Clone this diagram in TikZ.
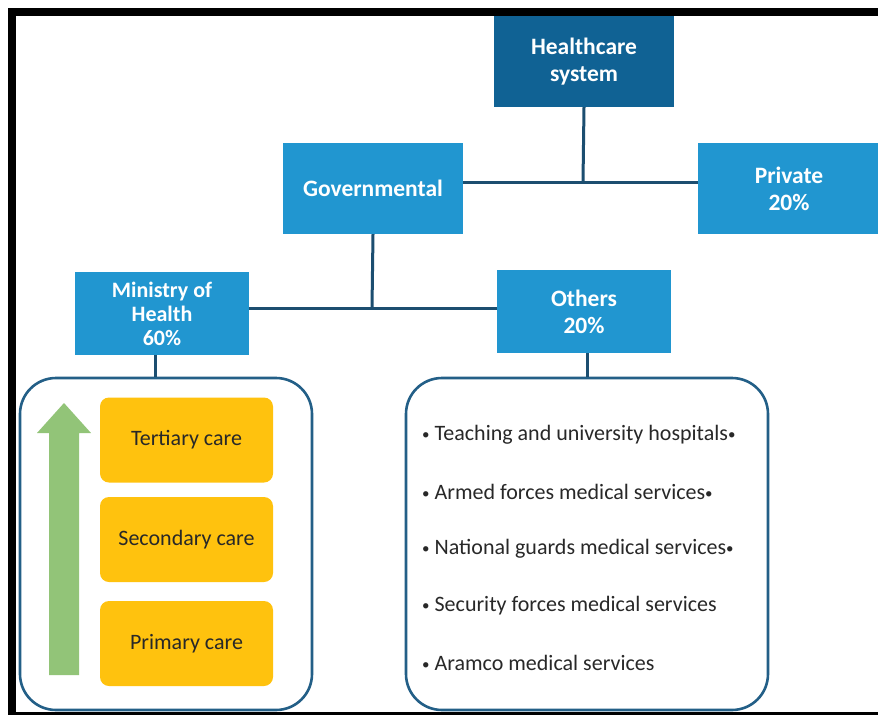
\documentclass[tikz,border=0pt]{standalone}
\usepackage{fontspec}
\setmainfont{Carlito}
\usetikzlibrary{calc}
\definecolor{hcblue}{RGB}{16,98,148}
\definecolor{midblue}{RGB}{33,150,208}
\definecolor{linecol}{RGB}{28,78,112}
\definecolor{framecol}{RGB}{35,95,135}
\definecolor{careyel}{RGB}{255,194,14}
\definecolor{arrgreen}{RGB}{146,196,120}
\definecolor{txtdark}{RGB}{40,40,40}
\newcommand{\smb}{\raisebox{1.5pt}{\fontsize{15}{15}\selectfont•}}
\tikzset{
  bluebox/.style={fill=midblue, text=white, font=\bfseries\fontsize{23.5}{27}\selectfont, align=center, inner sep=0pt},
  carebox/.style={fill=careyel, rounded corners=9pt, minimum width=173pt, minimum height=85pt, text=txtdark, font=\fontsize{22}{26}\selectfont, inner sep=0pt},
  groupbox/.style={draw=framecol, line width=2.6pt, rounded corners=36pt, inner sep=0pt},
  conn/.style={draw=linecol, line width=3pt},
  item/.style={anchor=west, text=txtdark, font=\fontsize{22}{26}\selectfont, inner sep=0pt}
}
\begin{document}
\begin{tikzpicture}[x=1pt,y=-1pt]
\useasboundingbox (0,0) rectangle (878,715);
\fill[white] (0,0) rectangle (878,715);
% frame
\fill[black] (8,8) rectangle (878,16);
\fill[black] (8,8) rectangle (16,715);
\fill[black] (8,712) rectangle (878,715);
% boxes
\node[bluebox, fill=hcblue, minimum width=180pt, minimum height=91pt] (hc) at (584,61.5) {Healthcare\\system};
\node[bluebox, minimum width=180pt, minimum height=91pt] (gov) at (373,188.5) {Governmental};
\node[bluebox, minimum width=182pt, minimum height=91pt] (priv) at (789,188.5) {Private\\20\%};
\node[bluebox, minimum width=174pt, minimum height=83pt, font=\bfseries\fontsize{22}{24}\selectfont] (moh) at (162,313.5) {Ministry of\\Health\\60\%};
\node[bluebox, minimum width=174pt, minimum height=83pt] (oth) at (584,311.5) {Others\\20\%};
% group boxes
\node[groupbox, minimum width=292pt, minimum height=332pt] (lbox) at (166,544) {};
\node[groupbox, minimum width=362pt, minimum height=332pt] (rbox) at (587,544) {};
% care boxes
\node[carebox] (ter) at (186.5,440) {Tertiary care};
\node[carebox] (sec) at (186.5,539.5) {Secondary care};
\node[carebox] (pri) at (186.5,643.5) {Primary care};
% arrow
\fill[arrgreen] (49,675) -- (49,433) -- (37,433) -- (64,403) -- (91,433) -- (79,433) -- (79,675) -- cycle;
% list items
\node[item] (i1) at (422,435) {\smb\ Teaching and university hospitals\smb};
\node[item] (i2) at (422,492) {\smb\ Armed forces medical services\smb};
\node[item] (i3) at (422,549) {\smb\ National guards medical services\smb};
\node[item] (i4) at (422,606) {\smb\ Security forces medical services};
\node[item] (i5) at (422,663) {\smb\ Aramco medical services};
% connectors
\coordinate (j1) at (583,182);
\coordinate (j2) at (372,308);
\draw[conn] (hc.south) -- (j1);
\draw[conn] (gov.east |- j1) -- (priv.west |- j1);
\draw[conn] (gov.south) -- (j2);
\draw[conn] (moh.east |- j2) -- (oth.west |- j2);
\draw[conn] (moh.south -| 155,0) -- (lbox.north -| 155,0);
\draw[conn] (oth.south -| 587,0) -- (rbox.north -| 587,0);
\end{tikzpicture}
\end{document}
